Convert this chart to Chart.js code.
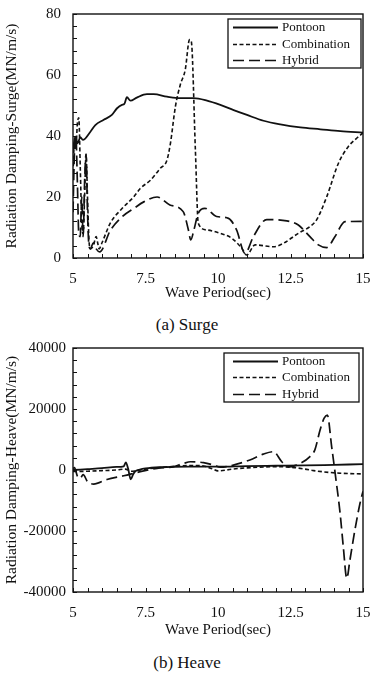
<!DOCTYPE html>
<html>
<head>
<meta charset="utf-8">
<script src="https://cdn.jsdelivr.net/npm/chart.js@4.4.0/dist/chart.umd.min.js"></script>
<style>
  body { margin: 0; background: #fff; width: 378px; height: 677px; position: relative; overflow: hidden; font-family: "Liberation Serif", serif; }
  .panel { position: absolute; left: 0; width: 378px; height: 305px; }
  .caption { position: absolute; left: 0; width: 374px; text-align: center; font-size: 17px; line-height: 20px; color: #111; }
</style>
</head>
<body>
<div class="panel" style="top:0"><canvas id="surgeChart"></canvas></div>
<div class="caption" style="top:315px">(a) Surge</div>
<div class="panel" style="top:335px"><canvas id="heaveChart"></canvas></div>
<div class="caption" style="top:653px">(b) Heave</div>
<script>
// Surge panel (a) - wave period (sec) vs damping (MN/m/s)
const surgePontoonX = [5.0, 5.08, 5.16, 5.25, 5.34, 5.6, 5.77, 6.06, 6.34, 6.52, 6.69, 6.77, 6.86, 6.98, 7.2, 7.55, 7.78, 8.24, 8.7, 9.16, 9.62, 10.08, 10.54, 11.0, 11.57, 12.15, 12.84, 13.53, 14.22, 15.0];
const surgePontoon = [35.4, 39.8, 37.6, 39.6, 38.7, 41.4, 43.6, 45.3, 46.9, 49.1, 50.2, 50.5, 52.7, 51.6, 52.6, 53.7, 53.7, 52.9, 52.4, 52.4, 51.6, 50.2, 48.5, 46.9, 45.0, 43.8, 42.8, 42.2, 41.6, 41.1];

const surgeCombX = [5.0, 5.05, 5.1, 5.15, 5.2, 5.25, 5.3, 5.35, 5.4, 5.45, 5.5, 5.55, 5.6, 5.7, 5.8, 5.85, 5.9, 6.0, 6.29, 6.69, 7.09, 7.32, 7.67, 8.01, 8.24, 8.36, 8.53, 8.7, 8.87, 9.02, 9.08, 9.22, 9.32, 9.61, 10.07, 10.47, 10.82, 10.99, 11.28, 11.91, 12.25, 12.77, 13.17, 13.4, 13.75, 14.15, 14.49, 14.75, 15.0];
const surgeComb = [28, 38, 36, 44, 46, 30, 12, 8, 20, 34, 20, 6, 3, 4, 7, 5, 3, 5, 11.5, 16.2, 20, 22.8, 25.5, 29.4, 32.1, 37.6, 49.6, 56.8, 61.7, 71.6, 71, 35.4, 11.4, 9.2, 8.1, 6.5, 3.2, 1.0, 4.3, 3.7, 4.8, 8.1, 10.3, 12.5, 20.1, 31, 36.5, 39, 41];

const surgeHybridX = [5.0, 5.05, 5.1, 5.15, 5.2, 5.25, 5.3, 5.35, 5.4, 5.45, 5.5, 5.55, 5.6, 5.7, 5.8, 5.92, 6.29, 6.69, 7.09, 7.44, 7.9, 8.34, 8.8, 8.98, 9.06, 9.17, 9.32, 9.55, 9.95, 10.36, 10.64, 10.93, 11.22, 11.68, 12.37, 12.77, 13.17, 13.46, 13.75, 14.03, 14.38, 15.0];
const surgeHybrid = [15, 35, 40, 25, 8, 7, 20, 7, 25, 34, 15, 4, 3, 5, 3, 2, 9.1, 13.5, 16.2, 18.4, 20, 17.4, 15.2, 9.2, 5.9, 9.2, 14.7, 16.3, 13.6, 13, 9.2, 1.5, 7, 12.6, 12.2, 10.8, 7, 4.3, 3.4, 7, 11.9, 12];

// Heave panel (b)
const heavePontoonX = [5.0, 5.5, 6.0, 6.5, 6.75, 6.82, 6.9, 6.99, 7.07, 7.14, 7.3, 7.5, 8.0, 9.0, 10.0, 11.0, 12.0, 13.0, 14.0, 15.0];
const heavePontoon = [0, 300, 600, 1000, 1200, 2500, 500, -3100, -1500, -500, 100, 500, 900, 1100, 1100, 1300, 1400, 1500, 1700, 1900];

const heaveCombX = [5.0, 5.5, 6.0, 6.5, 6.8, 7.0, 7.5, 8.0, 8.5, 9.0, 9.5, 9.8, 10.0, 10.5, 11.0, 12.0, 12.4, 13.0, 13.3, 14.1, 15.0];
const heaveComb = [-500, -400, -200, 0, 300, -400, 300, 800, 1200, 1500, 1300, 400, -300, 300, 700, 1100, 1000, 300, -200, -1000, -1300];

const heaveHybridX = [5.0, 5.05, 5.15, 5.25, 5.35, 5.5, 5.71, 6.17, 6.75, 7.32, 7.9, 8.47, 8.82, 9.05, 9.5, 9.85, 10.08, 10.53, 11.1, 11.56, 11.91, 12.2, 12.42, 12.71, 13.17, 13.34, 13.52, 13.66, 13.77, 13.92, 14.07, 14.21, 14.32, 14.44, 14.55, 14.72, 14.9, 15.0];
const heaveHybrid = [500, 800, -2000, -2700, -1500, -3800, -4600, -3100, -1900, -550, 550, 1100, 2200, 2700, 2400, 1600, 900, 1600, 3300, 5200, 6000, 2700, 1000, 1600, 4400, 6600, 13100, 17000, 18000, 7600, -3300, -14100, -25100, -35500, -29500, -19700, -10800, -7000];

const seriesNames = ["Pontoon", "Combination", "Hybrid"];
const xTicks = [5, 7.5, 10, 12.5, 15];

const INK = "#111";
const serif = "'Liberation Serif', 'Times New Roman', serif";

function pts(xs, ys) {
  return xs.map((x, i) => ({ x, y: ys[i] }));
}

// box around plot + small inward tick marks on bottom and left
const frameTicks = {
  id: "frameTicks",
  afterDatasetsDraw(chart, args, opts) {
    const { ctx, chartArea: a, scales: { x, y } } = chart;
    ctx.save();
    ctx.strokeStyle = INK;
    ctx.lineWidth = 1;
    ctx.beginPath();
    for (let v = x.min; v <= x.max + 1e-9; v += opts.xMinor) {
      const px = Math.round(x.getPixelForValue(v)) + 0.5;
      ctx.moveTo(px, a.bottom);
      ctx.lineTo(px, a.bottom - 4);
    }
    for (let v = y.min; v <= y.max + 1e-9; v += opts.yMinor) {
      const py = Math.round(y.getPixelForValue(v)) + 0.5;
      ctx.moveTo(a.left, py);
      ctx.lineTo(a.left + 4, py);
    }
    ctx.stroke();
    ctx.lineWidth = 1.4;
    ctx.strokeRect(a.left, a.top, a.right - a.left, a.bottom - a.top);
    ctx.restore();
  }
};

// framed legend in the upper right corner of the plot
const boxLegend = {
  id: "boxLegend",
  afterDraw(chart, args, opts) {
    const { ctx, chartArea: a } = chart;
    const left = a.right - opts.boxLeft;
    const top = a.top + opts.top;
    const width = opts.boxLeft - opts.boxRight;
    ctx.save();
    ctx.fillStyle = "#fff";
    ctx.fillRect(left, top, width, opts.height);
    ctx.strokeStyle = INK;
    ctx.lineWidth = 1.3;
    ctx.strokeRect(left, top, width, opts.height);
    ctx.font = "13px " + serif;
    ctx.textBaseline = "middle";
    ctx.fillStyle = INK;
    chart.data.datasets.forEach((ds, i) => {
      const yy = Math.round(top + opts.firstRow + i * opts.rowGap) + 0.5;
      ctx.setLineDash(ds.borderDash || []);
      ctx.lineWidth = ds.borderWidth;
      ctx.beginPath();
      ctx.moveTo(a.right - 130, yy);
      ctx.lineTo(a.right - 85, yy);
      ctx.stroke();
      ctx.setLineDash([]);
      ctx.fillText(ds.label, a.right - 81, yy + 0.5);
    });
    ctx.restore();
  }
};

function makeDatasets(p, c, h) {
  return [
    { label: seriesNames[0], data: p, borderColor: INK, borderWidth: 1.8, borderDash: [] },
    { label: seriesNames[1], data: c, borderColor: INK, borderWidth: 1.6, borderDash: [4, 2.5] },
    { label: seriesNames[2], data: h, borderColor: INK, borderWidth: 1.7, borderDash: [11, 5] }
  ];
}

function makeChart(id, datasets, cfg) {
  return new Chart(document.getElementById(id), {
    type: "line",
    data: { datasets },
    options: {
      responsive: true,
      maintainAspectRatio: false,
      animation: false,
      layout: { padding: { top: cfg.padTop, right: 15, left: 0, bottom: 0 } },
      elements: {
        point: { radius: 0 },
        line: { cubicInterpolationMode: "monotone", fill: false }
      },
      plugins: {
        legend: { display: false },
        tooltip: { enabled: false },
        frameTicks: { xMinor: 0.5, yMinor: cfg.yMinor },
        boxLegend: cfg.legend
      },
      scales: {
        x: {
          type: "linear",
          min: 5,
          max: 15,
          afterBuildTicks: s => { s.ticks = xTicks.map(v => ({ value: v })); },
          afterFit: s => {
            s.height = cfg.xHeight;
            s.paddingLeft = 0;
            s.paddingRight = 0;
          },
          grid: { display: false, drawTicks: false },
          border: { display: false },
          ticks: {
            padding: cfg.xLabelPad,
            color: INK,
            maxRotation: 0,
            autoSkip: false,
            font: { family: serif, size: 15 },
            callback: v => String(v)
          },
          title: {
            display: true,
            text: "Wave Period(sec)",
            color: INK,
            font: { family: serif, size: 15 },
            padding: { top: 0, bottom: cfg.xTitlePad }
          }
        },
        y: {
          min: cfg.yMin,
          max: cfg.yMax,
          afterFit: s => {
            s.width = 73;
            s.paddingTop = 0;
            s.paddingBottom = 0;
          },
          grid: { display: false, drawTicks: false },
          border: { display: false },
          ticks: {
            stepSize: cfg.yStep,
            padding: cfg.yLabelPad,
            color: INK,
            font: { family: serif, size: 15 },
            callback: v => String(v)
          },
          title: {
            display: true,
            text: cfg.yTitle,
            color: INK,
            font: { family: serif, size: 15.5 },
            padding: { top: 3, bottom: 0 }
          }
        }
      }
    },
    plugins: [frameTicks, boxLegend]
  });
}

makeChart("surgeChart",
  makeDatasets(pts(surgePontoonX, surgePontoon), pts(surgeCombX, surgeComb), pts(surgeHybridX, surgeHybrid)),
  {
    padTop: 14, xHeight: 47, xLabelPad: 12, xTitlePad: 3,
    yMin: 0, yMax: 80, yStep: 20, yMinor: 4, yLabelPad: 12,
    yTitle: "Radiation Damping-Surge(MN/m/s)",
    legend: { boxLeft: 135, boxRight: 2, top: 5, height: 49, firstRow: 8, rowGap: 16.5 }
  });

makeChart("heaveChart",
  makeDatasets(pts(heavePontoonX, heavePontoon), pts(heaveCombX, heaveComb), pts(heaveHybridX, heaveHybrid)),
  {
    padTop: 13, xHeight: 48, xLabelPad: 12, xTitlePad: 1,
    yMin: -40000, yMax: 40000, yStep: 20000, yMinor: 4000, yLabelPad: 7,
    yTitle: "Radiation Damping-Heave(MN/m/s)",
    legend: { boxLeft: 139, boxRight: 4, top: 5, height: 49, firstRow: 8, rowGap: 16.3 }
  });
</script>
</body>
</html>
